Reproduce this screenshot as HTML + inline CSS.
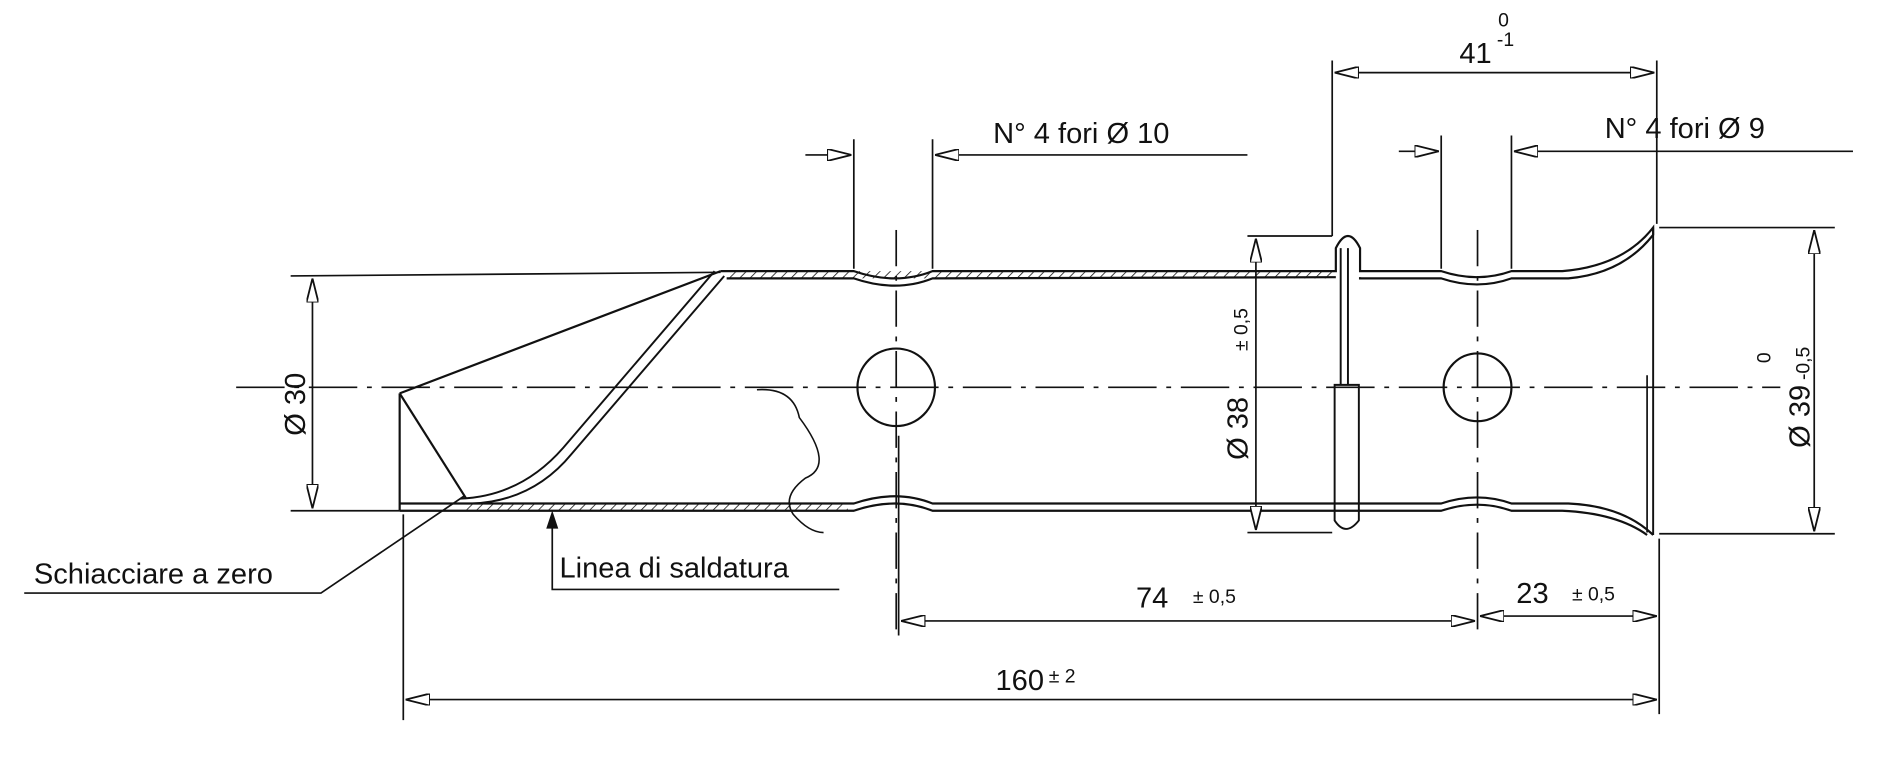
<!DOCTYPE html>
<html><head><meta charset="utf-8"><style>
html,body{margin:0;padding:0;background:#fff;}
svg{display:block;}
text{font-family:"Liberation Sans",sans-serif;fill:#111;}
</style></head><body>
<svg width="1899" height="771" viewBox="0 0 1568 637" preserveAspectRatio="none" xmlns="http://www.w3.org/2000/svg">
<defs>
<marker id="a" viewBox="0 0 20 10" refX="20" refY="5" markerWidth="20" markerHeight="10" markerUnits="userSpaceOnUse" orient="auto-start-reverse">
<path d="M20,5 L0,0 L0,10 Z" fill="#fff" stroke="#111" stroke-width="1.5"/>
</marker>
<pattern id="h" width="6" height="6" patternUnits="userSpaceOnUse" patternTransform="rotate(45)">
<line x1="0" y1="0" x2="0" y2="6" stroke="#111" stroke-width="1.3"/>
</pattern>
</defs>
<g stroke="#111" fill="none" stroke-width="1.4">
<line x1="195" y1="320" x2="1470" y2="320" stroke-dasharray="40,8,4,8"/>
<line x1="740" y1="190" x2="740" y2="520" stroke-dasharray="30,8,4,8"/>
<line x1="1220" y1="190" x2="1220" y2="520" stroke-dasharray="30,8,4,8"/>
<path d="M595,224 L705,224 Q740,236 770,224 L1103,224 L1103,205 Q1113,185 1123,205 L1123,224 L1190,224 Q1220,234 1248,224 L1290,224 Q1340,220 1365,188 L1365,194 Q1340,226 1295,230 L1248,230 Q1220,240 1190,230 L1123,230 L1123,229 M1103,229 L770,230 Q740,242 705,230 L600,230" stroke-width="1.8"/>
<rect x="600" y="224" width="500" height="6" fill="url(#h)" stroke="none"/>
<path d="M330,416 L705,416 Q740,404 770,416 L1190,416 Q1220,406 1248,416 L1295,416 Q1340,418 1365,442 M330,422 L705,422 Q740,410 770,422 L1190,422 Q1220,412 1248,422 L1290,422 Q1335,424 1360,442" stroke-width="1.8"/>
<rect x="385" y="416" width="315" height="6" fill="url(#h)" stroke="none"/>
<line x1="1365" y1="188" x2="1365" y2="442" stroke-width="1.6"/>
<line x1="1360" y1="310" x2="1360" y2="440" stroke-width="1.4"/>
<path d="M1107,205 L1107,318 M1113,205 L1113,318 M1102,318 L1102,430 Q1111,444 1122,430 L1122,318 Z" stroke-width="1.6"/>
<line x1="330" y1="325" x2="330" y2="422" stroke-width="1.8"/>
<line x1="330" y1="325" x2="595" y2="224" stroke-width="1.8"/>
<line x1="330" y1="325" x2="385" y2="412" stroke-width="1.8"/>
<path d="M380,412 Q430,410 465,370 L590,224 M390,416 Q440,414 472,375 L598,228" stroke-width="1.6"/>
<path d="M625,322 Q655,320 660,345 Q690,385 665,395 Q645,410 655,425 Q668,440 680,440" stroke-width="1.3"/>
<circle cx="740" cy="320" r="32" stroke-width="1.8"/>
<circle cx="1220" cy="320" r="28" stroke-width="1.8"/>
<line x1="240" y1="228" x2="595" y2="225"/>
<line x1="240" y1="422" x2="330" y2="422"/>
<line x1="1030" y1="195" x2="1100" y2="195"/>
<line x1="1030" y1="440" x2="1100" y2="440"/>
<line x1="1370" y1="188" x2="1515" y2="188"/>
<line x1="1370" y1="441" x2="1515" y2="441"/>
<line x1="1100" y1="50" x2="1100" y2="195"/>
<line x1="1368" y1="50" x2="1368" y2="185"/>
<line x1="705" y1="115" x2="705" y2="222"/>
<line x1="770" y1="115" x2="770" y2="222"/>
<line x1="1190" y1="112" x2="1190" y2="222"/>
<line x1="1248" y1="112" x2="1248" y2="222"/>
<line x1="333" y1="425" x2="333" y2="595"/>
<line x1="1370" y1="445" x2="1370" y2="590"/>
<line x1="742" y1="360" x2="742" y2="525"/>
<line x1="258" y1="230" x2="258" y2="420" marker-start="url(#a)" marker-end="url(#a)"/>
<line x1="1037" y1="197" x2="1037" y2="438" marker-start="url(#a)" marker-end="url(#a)"/>
<line x1="1498" y1="190" x2="1498" y2="439" marker-start="url(#a)" marker-end="url(#a)"/>
<line x1="1102" y1="60" x2="1366" y2="60" marker-start="url(#a)" marker-end="url(#a)"/>
<line x1="744" y1="513" x2="1218" y2="513" marker-start="url(#a)" marker-end="url(#a)"/>
<line x1="1222" y1="509" x2="1368" y2="509" marker-start="url(#a)" marker-end="url(#a)"/>
<line x1="335" y1="578" x2="1368" y2="578" marker-start="url(#a)" marker-end="url(#a)"/>
<line x1="665" y1="128" x2="703" y2="128" marker-end="url(#a)"/>
<line x1="1030" y1="128" x2="772" y2="128" marker-end="url(#a)"/>
<line x1="1155" y1="125" x2="1188" y2="125" marker-end="url(#a)"/>
<line x1="1530" y1="125" x2="1250" y2="125" marker-end="url(#a)"/>
<polyline points="20,490 265,490 383,410"/>
<polyline points="693,487 456,487 456,426"/>
<path d="M456,424 L452,436 L460,436 Z" fill="#111"/>
</g>
<g font-size="24">
<text x="820" y="118">N° 4 fori Ø 10</text>
<text x="1325" y="114">N° 4 fori Ø 9</text>
<text x="1205" y="52">41</text>
<text x="1236" y="38" font-size="16">-1</text>
<text x="1237" y="22" font-size="16">0</text>
<text x="28" y="482">Schiacciare a zero</text>
<text x="462" y="477">Linea di saldatura</text>
<text x="938" y="502">74</text>
<text x="985" y="498" font-size="16">± 0,5</text>
<text x="1252" y="498">23</text>
<text x="1298" y="496" font-size="16">± 0,5</text>
<text x="822" y="570">160</text>
<text x="866" y="564" font-size="16">± 2</text>
<text transform="translate(252,360) rotate(-90)">Ø 30</text>
<text transform="translate(1030,380) rotate(-90)">Ø 38</text>
<text transform="translate(1030,290) rotate(-90)" font-size="16">± 0,5</text>
<text transform="translate(1494,370) rotate(-90)">Ø 39</text>
<text transform="translate(1494,314) rotate(-90)" font-size="16">-0,5</text>
<text transform="translate(1462,300) rotate(-90)" font-size="16">0</text>
</g>
</svg>
</body></html>
